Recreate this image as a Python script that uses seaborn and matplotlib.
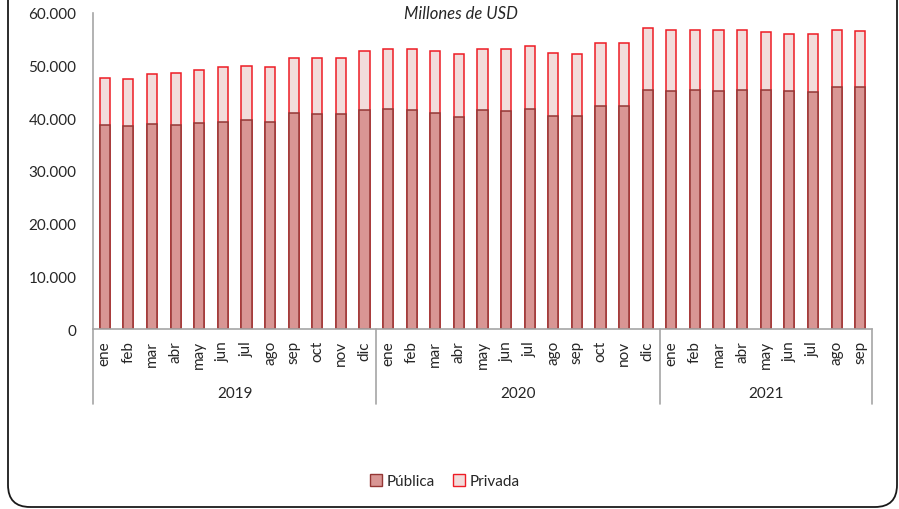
import numpy as np
import pandas as pd
import matplotlib
import matplotlib.pyplot as plt
import seaborn as sns
from matplotlib.patches import FancyBboxPatch, Patch
from matplotlib.transforms import IdentityTransform, blended_transform_factory
from matplotlib.ticker import FuncFormatter

# data (millions of USD)
years = ["2019", "2020", "2021"]
months = ["ene", "feb", "mar", "abr", "may", "jun", "jul", "ago", "sep", "oct", "nov", "dic"]
months_per_year = [12, 12, 9]

publica = [38800, 38600, 38980, 38730, 39110, 39360, 39620, 39240, 40950, 40820, 40760, 41580,
           41770, 41580, 41070, 40240, 41520, 41390, 41830, 40500, 40440, 42400, 42400, 45430,
           45200, 45320, 45250, 45430, 45430, 45130, 45060, 46010, 45890]
privada = [8800, 8800, 9490, 9870, 10060, 10320, 10250, 10500, 10560, 10570, 10690, 11140,
           11450, 11520, 11650, 11910, 11700, 11770, 11840, 11840, 11840, 11960, 11900, 11660,
           11570, 11450, 11520, 11340, 11020, 10940, 10890, 10760, 10690]

month_labels = []
keys = []
for y, n in zip(years, months_per_year):
    for m in months[:n]:
        month_labels.append(m)
        keys.append(y + "-" + m)

df = pd.DataFrame({"key": keys, "mes": month_labels,
                   "publica": publica, "privada": privada})
df["total"] = df["publica"] + df["privada"]

sns.set_style("white")
plt.rcParams['font.family'] = ['Lato', 'DejaVu Sans']
text_color = "#262626"

fig = plt.figure(figsize=(8.99, 5.10), dpi=100)
W, H = 899, 510
ax = fig.add_axes([93 / W, 1 - 330 / H, (872 - 93) / W, (330 - 14) / H])

# privada stacked on top: draw total first, then publica over it
sns.barplot(data=df, x="key", y="total", order=keys, color="#F2DCDB", saturation=1,
            edgecolor="#EE1C25", linewidth=1.1, width=0.43, errorbar=None, ax=ax)
sns.barplot(data=df, x="key", y="publica", order=keys, color="#D99694", saturation=1,
            edgecolor="#943634", linewidth=1.1, width=0.43, errorbar=None, ax=ax)

ax.set_ylim(0, 60000)
ax.set_xlim(-0.5, len(keys) - 0.5)
ax.set_yticks(np.arange(0, 60001, 10000))
ax.yaxis.set_major_formatter(FuncFormatter(lambda v, p: f"{int(v):,}".replace(",", ".")))
ax.set_xticks(range(len(keys)))
ax.set_xticklabels(month_labels, rotation=90, fontsize=11, color=text_color)
ax.tick_params(axis="x", length=0, pad=8)
ax.tick_params(axis="y", length=0, pad=12, labelsize=11, labelcolor=text_color)
ax.set_xlabel("")
ax.set_ylabel("")

for s in ["top", "right"]:
    ax.spines[s].set_visible(False)
for s in ["left", "bottom"]:
    ax.spines[s].set_color("#a6a6a6")
    ax.spines[s].set_linewidth(1.2)

# year level of the category axis
trans = blended_transform_factory(ax.transData, ax.transAxes)
start = 0
bounds = [-0.5]
for y, n in zip(years, months_per_year):
    ax.text(start + (n - 1) / 2, -0.2025, y, transform=trans, ha="center", va="center",
            fontsize=11, color=text_color)
    start += n
    bounds.append(start - 0.5)
for b in bounds:
    ax.plot([b, b], [0, -0.237], transform=trans, color="#a6a6a6", lw=1.2, clip_on=False)

fig.text(461 / W, 1 - 14 / H, "Millones de USD", ha="center", va="center",
         fontsize=12, style="italic", color=text_color)

handles = [Patch(facecolor="#D99694", edgecolor="#943634", label="Pública"),
           Patch(facecolor="#F2DCDB", edgecolor="#EE1C25", label="Privada")]
fig.legend(handles=handles, loc="center", bbox_to_anchor=(445 / W, 1 - 482 / H), ncol=2,
           frameon=False, fontsize=11, handlelength=0.8, handleheight=0.8,
           handletextpad=0.3, columnspacing=1.2, labelcolor=text_color)

# rounded chart border (top edge falls outside the image)
border = FancyBboxPatch((8, 2), 889, 700, boxstyle="round,pad=0,rounding_size=22",
                        transform=IdentityTransform(), facecolor="none",
                        edgecolor="#1a1a1a", linewidth=1.3)
fig.add_artist(border)

plt.savefig("out.png", dpi=100)
